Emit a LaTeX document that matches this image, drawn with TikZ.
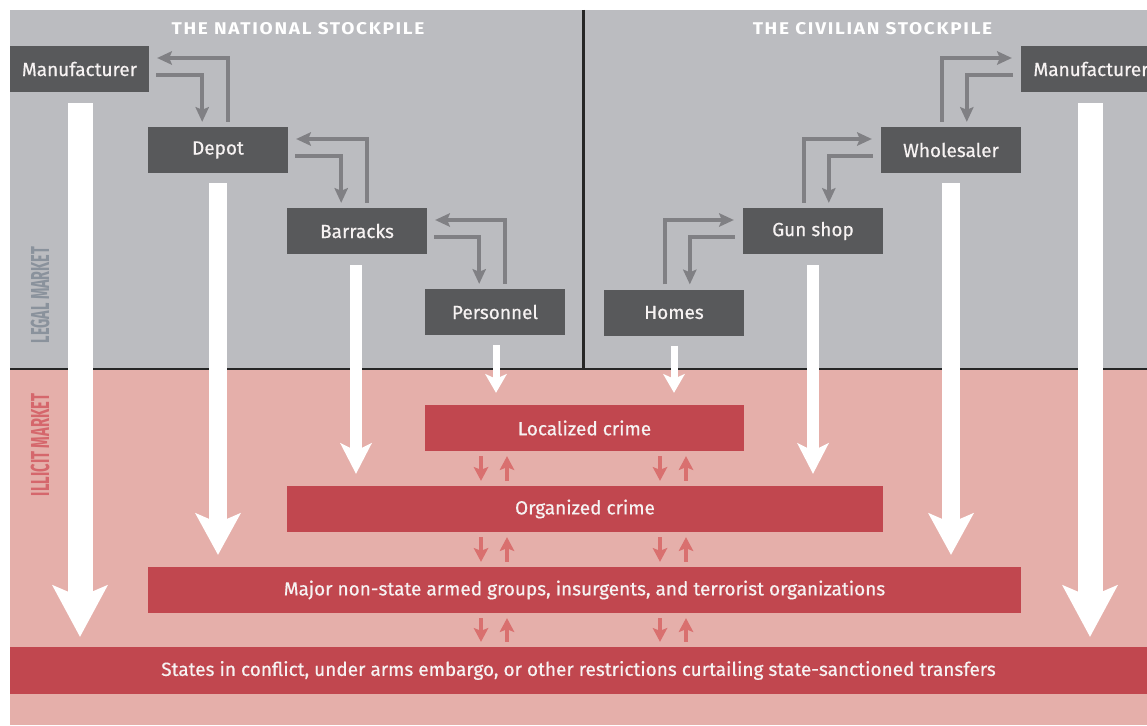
\documentclass[tikz,border=0pt]{standalone}
\usepackage{fontspec}
\setmainfont{Fira Sans}
\usetikzlibrary{arrows.meta,calc}
\definecolor{bggray}{HTML}{BBBCC0}
\definecolor{bgpink}{HTML}{E5AFAA}
\definecolor{boxdark}{HTML}{58595B}
\definecolor{boxred}{HTML}{C1474F}
\definecolor{arrgray}{HTML}{808084}
\definecolor{arrred}{HTML}{D9706F}
\definecolor{lblgray}{HTML}{8A929C}
\definecolor{lblred}{HTML}{D5676C}
\definecolor{txtc}{HTML}{F6F2F2}
\newfontfamily\boxfont[FakeBold=0.5]{Fira Sans}
\newfontfamily\headfont[FakeStretch=1.12,LetterSpace=10]{Fira Sans}
\begin{document}
\begin{tikzpicture}[x=1pt,y=-1pt,
  dbox/.style={fill=boxdark, text=txtc, minimum width=140pt, minimum height=46pt, inner sep=0pt, font=\boxfont\fontsize{19}{21}\selectfont},
  rbox/.style={fill=boxred, text=txtc, minimum height=46pt, inner sep=0pt, font=\boxfont\fontsize{19}{21}\selectfont},
  garr/.style={draw=arrgray, line width=4pt, -{Stealth[length=15pt,width=14pt,inset=3pt,line width=0pt]}},
  rarr/.style={draw=arrred, line width=4pt, -{Stealth[length=14pt,width=15pt,inset=3pt,line width=0pt]}},
  bigarr/.style args={#1/#2/#3/#4}{draw=white, line width=#1pt, -{Stealth[width=#2pt,length=#3pt,inset=#4pt,line width=0pt]}},
  headtxt/.style={text=white, inner sep=0pt, font=\headfont\bfseries\fontsize{17}{20}\selectfont},
  sidelbl/.style={rotate=90, inner sep=0pt, font=\fontsize{26}{28}\selectfont\bfseries},
]
\useasboundingbox (0,0) rectangle (1147,725);
\clip (0,0) rectangle (1147,725);
\fill[white] (0,0) rectangle (1147,725);
\fill[bggray] (10,10) rectangle (1147,369);
\fill[bgpink] (10,369) rectangle (1147,725);
\draw[line width=2.5pt, black!85] (10,369) -- (1147,369);
\draw[line width=3pt, black!85] (583,10) -- (583,369);

% headings and side labels
\node[headtxt] (hn) at (298,29) {THE NATIONAL STOCKPILE};
\node[headtxt] (hc) at (872.5,29) {THE CIVILIAN STOCKPILE};
\node[sidelbl, text=lblgray] (lg) at (40,295) {\scalebox{0.555}[1]{LEGAL MARKET}};
\node[sidelbl, text=lblred] (il) at (40,445) {\scalebox{0.565}[1]{ILLICIT MARKET}};

% legal boxes
\node[dbox, minimum width=139pt] (manL) at (79.5,69) {Manufacturer};
\node[dbox] (depot) at (218,150) {Depot};
\node[dbox] (barr) at (357,231) {Barracks};
\node[dbox] (pers) at (495,312) {Personnel};
\node[dbox] (homes) at (674,312.5) {Homes};
\node[dbox] (gun) at (813,231) {Gun shop};
\node[dbox] (whole) at (951,150) {Wholesaler};
\node[dbox] (manR) at (1091,69) {Manufacturer};

% illicit boxes
\node[rbox, minimum width=319pt] (loc) at (584.5,428) {Localized crime};
\node[rbox, minimum width=596pt] (org) at (585,509) {Organized crime};
\node[rbox, minimum width=873pt] (maj) at (584.5,590) {Major non-state armed groups, insurgents, and terrorist organizations};
\node[rbox, minimum width=1137pt, minimum height=47pt] (sta) at (578.5,670.5) {States in conflict, under arms embargo, or other restrictions curtailing state-sanctioned transfers};

% gray elbow arrows, national side
\foreach \P/\C in {manL/depot, depot/barr, barr/pers}{
  \draw[garr] ($(\P.east)+(7,6)$) -| ($(\C.north east)+(-86,-5)$);
  \draw[garr] ($(\C.north east)+(-60,-5)$) |- ($(\P.east)+(8,-11)$);
}
% gray elbow arrows, civilian side
\foreach \P/\C in {manR/whole, whole/gun, gun/homes}{
  \draw[garr] ($(\P.west)+(-8,6)$) -| ($(\C.north west)+(86,-5)$);
  \draw[garr] ($(\C.north west)+(61,-5)$) |- ($(\P.west)+(-9,-11)$);
}

% small red two-way arrows
\coordinate (cA) at (481,0);
\coordinate (cB) at (507,0);
\coordinate (cC) at (660,0);
\coordinate (cD) at (686,0);
\foreach \A/\B in {loc/org, org/maj, maj/sta}{
  \draw[rarr] ($(\A.south -| cA)+(0,5)$) -- ($(\B.north -| cA)+(0,-5)$);
  \draw[rarr] ($(\B.north -| cB)+(0,-5)$) -- ($(\A.south -| cB)+(0,5)$);
  \draw[rarr] ($(\A.south -| cC)+(0,5)$) -- ($(\B.north -| cC)+(0,-5)$);
  \draw[rarr] ($(\B.north -| cD)+(0,-5)$) -- ($(\A.south -| cD)+(0,5)$);
}

% big white arrows
\draw[bigarr=25/56/52/12] ($(manL.south)+(0.5,11)$) -- ($(sta.north -| manL.south)+(0.5,-10)$);
\draw[bigarr=18/46/42/10] ($(depot.south)+(0,10)$) -- ($(maj.north -| depot.south)+(0,-12)$);
\draw[bigarr=12/32/31/8] ($(barr.south)+(-1,11)$) -- ($(org.north -| barr.south)+(-1,-12)$);
\draw[bigarr=7/22/19/5] ($(pers.south)+(1,10)$) -- ($(loc.north -| pers.south)+(1,-12)$);
\draw[bigarr=7/22/19/5] ($(homes.south)+(0,10)$) -- ($(loc.north -| homes.south)+(0,-12)$);
\draw[bigarr=12/32/31/8] ($(gun.south)+(0,11)$) -- ($(org.north -| gun.south)+(0,-12)$);
\draw[bigarr=18/46/42/10] ($(whole.south)+(0,10)$) -- ($(maj.north -| whole.south)+(0,-12)$);
\draw[bigarr=25/56/52/12] ($(manR.south)+(-1,11)$) -- ($(sta.north -| manR.south)+(-1,-10)$);
\end{tikzpicture}
\end{document}
